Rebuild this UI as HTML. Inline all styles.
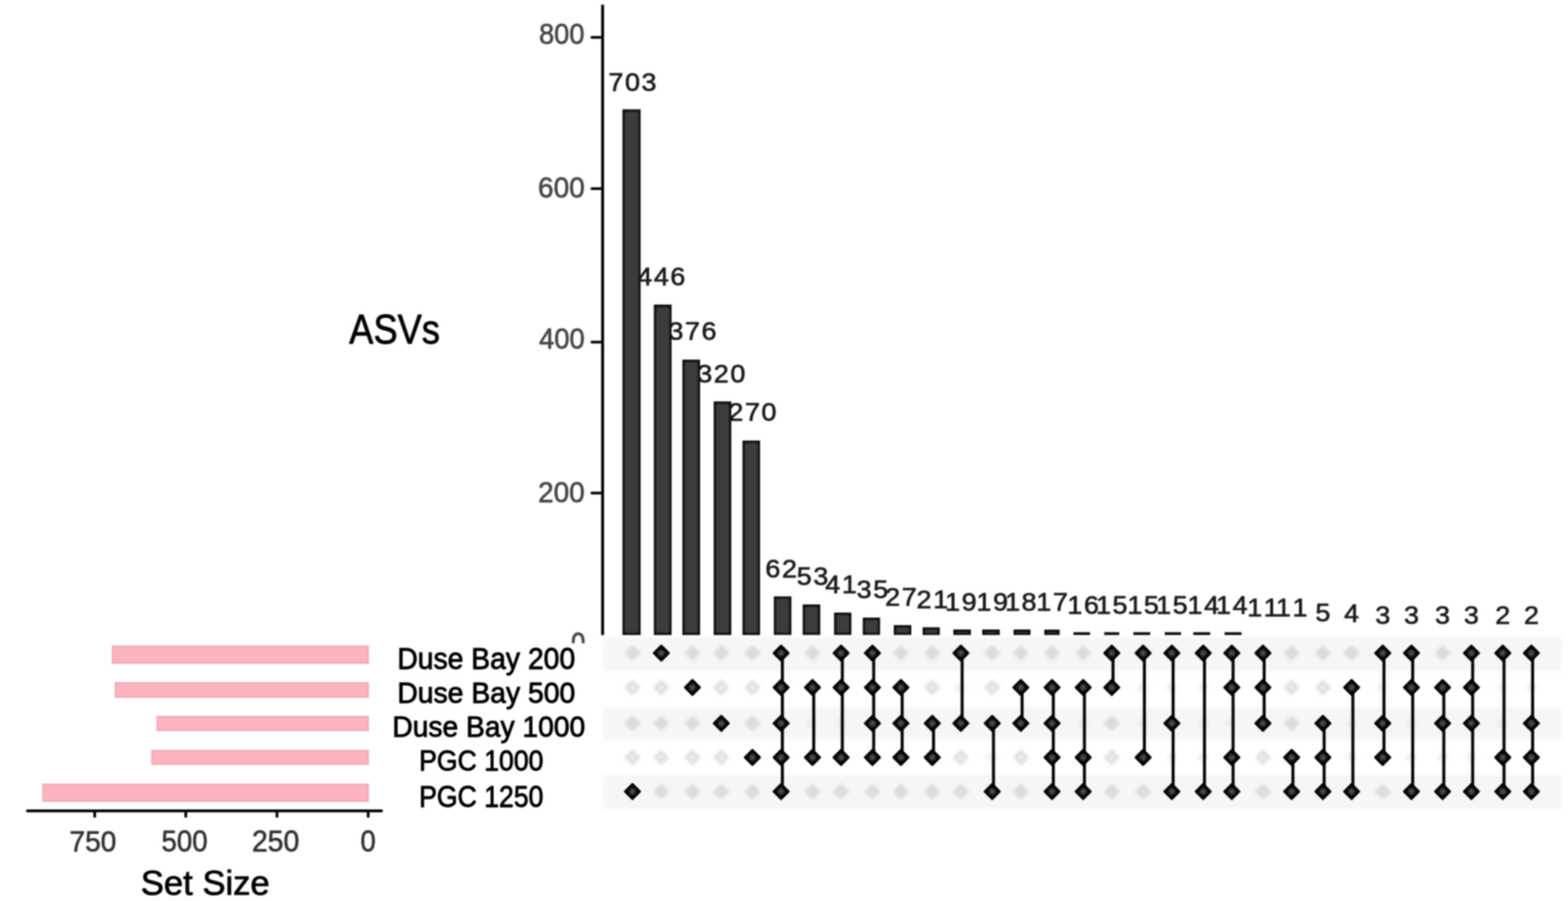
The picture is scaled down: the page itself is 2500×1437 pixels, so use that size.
<!DOCTYPE html>
<html lang="en"><head><meta charset="utf-8"><title>UpSet plot - ASVs</title>
<style>
html,body{margin:0;padding:0;background:#fff;}
body{width:2500px;height:1437px;overflow:hidden;}
svg{display:block;}
text{font-family:"Liberation Sans",sans-serif;font-kerning:none;}
</style></head><body>
<svg width="2500" height="1437" viewBox="0 0 2500 1437">
<defs>
<radialGradient id="dg" cx="50%" cy="50%" r="50%">
<stop offset="0" stop-color="#585858"/><stop offset="0.28" stop-color="#3c3c3c"/><stop offset="0.6" stop-color="#0a0a0a"/><stop offset="1" stop-color="#000"/>
</radialGradient>
<filter id="b1" color-interpolation-filters="sRGB" x="-50%" y="-50%" width="200%" height="200%"><feGaussianBlur stdDeviation="2.2"/></filter>
<filter id="b2" color-interpolation-filters="sRGB" x="-5%" y="-5%" width="110%" height="110%"><feGaussianBlur stdDeviation="0.9"/></filter>
<filter id="b4" color-interpolation-filters="sRGB" x="-30%" y="-10%" width="160%" height="120%"><feGaussianBlur stdDeviation="1.3"/></filter>
<filter id="b3" color-interpolation-filters="sRGB" x="-5%" y="-20%" width="110%" height="140%"><feGaussianBlur stdDeviation="2"/></filter>
<clipPath id="cz"><rect x="900" y="1000" width="40" height="25.2"/></clipPath>
<clipPath id="cb"><rect x="960" y="0" width="1540" height="1012.8"/></clipPath>
</defs>
<rect width="2500" height="1437" fill="#fff"/>
<g filter="url(#b2)">
<g>
<text transform="translate(1009.63,144.70) scale(1.0700,1)" font-size="40.20" fill="#1c1c1c" text-anchor="middle" stroke="#1c1c1c" stroke-width="1.0" stroke-linejoin="round" letter-spacing="2.3">703</text>
<text transform="translate(1055.63,455.10) scale(1.0700,1)" font-size="40.20" fill="#1c1c1c" text-anchor="middle" stroke="#1c1c1c" stroke-width="1.0" stroke-linejoin="round" letter-spacing="2.3">446</text>
<text transform="translate(1105.23,542.10) scale(1.0700,1)" font-size="40.20" fill="#1c1c1c" text-anchor="middle" stroke="#1c1c1c" stroke-width="1.0" stroke-linejoin="round" letter-spacing="2.3">376</text>
<text transform="translate(1151.23,609.50) scale(1.0700,1)" font-size="40.20" fill="#1c1c1c" text-anchor="middle" stroke="#1c1c1c" stroke-width="1.0" stroke-linejoin="round" letter-spacing="2.3">320</text>
<text transform="translate(1200.83,671.30) scale(1.0700,1)" font-size="40.20" fill="#1c1c1c" text-anchor="middle" stroke="#1c1c1c" stroke-width="1.0" stroke-linejoin="round" letter-spacing="2.3">270</text>
<text transform="translate(1246.63,920.70) scale(1.0700,1)" font-size="40.20" fill="#1c1c1c" text-anchor="middle" stroke="#1c1c1c" stroke-width="1.0" stroke-linejoin="round" letter-spacing="2.3">62</text>
<text transform="translate(1296.63,932.70) scale(1.0700,1)" font-size="40.20" fill="#1c1c1c" text-anchor="middle" stroke="#1c1c1c" stroke-width="1.0" stroke-linejoin="round" letter-spacing="2.3">53</text>
<text transform="translate(1342.23,945.70) scale(1.0700,1)" font-size="40.20" fill="#1c1c1c" text-anchor="middle" stroke="#1c1c1c" stroke-width="1.0" stroke-linejoin="round" letter-spacing="2.3">41</text>
<text transform="translate(1392.23,953.70) scale(1.0700,1)" font-size="40.20" fill="#1c1c1c" text-anchor="middle" stroke="#1c1c1c" stroke-width="1.0" stroke-linejoin="round" letter-spacing="2.3">35</text>
<text transform="translate(1437.63,965.70) scale(1.0700,1)" font-size="40.20" fill="#1c1c1c" text-anchor="middle" stroke="#1c1c1c" stroke-width="1.0" stroke-linejoin="round" letter-spacing="2.3">27</text>
<text transform="translate(1487.63,969.70) scale(1.0700,1)" font-size="40.20" fill="#1c1c1c" text-anchor="middle" stroke="#1c1c1c" stroke-width="1.0" stroke-linejoin="round" letter-spacing="2.3">21</text>
<text transform="translate(1533.23,973.70) scale(1.0700,1)" font-size="40.20" fill="#1c1c1c" text-anchor="middle" stroke="#1c1c1c" stroke-width="1.0" stroke-linejoin="round" letter-spacing="2.3">19</text>
<text transform="translate(1583.23,973.70) scale(1.0700,1)" font-size="40.20" fill="#1c1c1c" text-anchor="middle" stroke="#1c1c1c" stroke-width="1.0" stroke-linejoin="round" letter-spacing="2.3">19</text>
<text transform="translate(1628.83,973.70) scale(1.0700,1)" font-size="40.20" fill="#1c1c1c" text-anchor="middle" stroke="#1c1c1c" stroke-width="1.0" stroke-linejoin="round" letter-spacing="2.3">18</text>
<text transform="translate(1678.63,973.70) scale(1.0700,1)" font-size="40.20" fill="#1c1c1c" text-anchor="middle" stroke="#1c1c1c" stroke-width="1.0" stroke-linejoin="round" letter-spacing="2.3">17</text>
<text transform="translate(1728.23,978.70) scale(1.0700,1)" font-size="40.20" fill="#1c1c1c" text-anchor="middle" stroke="#1c1c1c" stroke-width="1.0" stroke-linejoin="round" letter-spacing="2.3">16</text>
<text transform="translate(1773.83,978.70) scale(1.0700,1)" font-size="40.20" fill="#1c1c1c" text-anchor="middle" stroke="#1c1c1c" stroke-width="1.0" stroke-linejoin="round" letter-spacing="2.3">15</text>
<text transform="translate(1823.83,978.70) scale(1.0700,1)" font-size="40.20" fill="#1c1c1c" text-anchor="middle" stroke="#1c1c1c" stroke-width="1.0" stroke-linejoin="round" letter-spacing="2.3">15</text>
<text transform="translate(1869.63,978.70) scale(1.0700,1)" font-size="40.20" fill="#1c1c1c" text-anchor="middle" stroke="#1c1c1c" stroke-width="1.0" stroke-linejoin="round" letter-spacing="2.3">15</text>
<text transform="translate(1919.63,978.70) scale(1.0700,1)" font-size="40.20" fill="#1c1c1c" text-anchor="middle" stroke="#1c1c1c" stroke-width="1.0" stroke-linejoin="round" letter-spacing="2.3">14</text>
<text transform="translate(1965.23,978.70) scale(1.0700,1)" font-size="40.20" fill="#1c1c1c" text-anchor="middle" stroke="#1c1c1c" stroke-width="1.0" stroke-linejoin="round" letter-spacing="2.3">14</text>
<text transform="translate(2014.83,982.60) scale(1.0700,1)" font-size="40.20" fill="#1c1c1c" text-anchor="middle" stroke="#1c1c1c" stroke-width="1.0" stroke-linejoin="round" letter-spacing="2.3">11</text>
<text transform="translate(2060.63,982.60) scale(1.0700,1)" font-size="40.20" fill="#1c1c1c" text-anchor="middle" stroke="#1c1c1c" stroke-width="1.0" stroke-linejoin="round" letter-spacing="2.3">11</text>
<text transform="translate(2110.43,990.70) scale(1.0700,1)" font-size="40.20" fill="#1c1c1c" text-anchor="middle" stroke="#1c1c1c" stroke-width="1.0" stroke-linejoin="round" letter-spacing="2.3">5</text>
<text transform="translate(2156.23,991.50) scale(1.0700,1)" font-size="40.20" fill="#1c1c1c" text-anchor="middle" stroke="#1c1c1c" stroke-width="1.0" stroke-linejoin="round" letter-spacing="2.3">4</text>
<text transform="translate(2205.83,994.70) scale(1.0700,1)" font-size="40.20" fill="#1c1c1c" text-anchor="middle" stroke="#1c1c1c" stroke-width="1.0" stroke-linejoin="round" letter-spacing="2.3">3</text>
<text transform="translate(2251.63,994.70) scale(1.0700,1)" font-size="40.20" fill="#1c1c1c" text-anchor="middle" stroke="#1c1c1c" stroke-width="1.0" stroke-linejoin="round" letter-spacing="2.3">3</text>
<text transform="translate(2301.23,994.70) scale(1.0700,1)" font-size="40.20" fill="#1c1c1c" text-anchor="middle" stroke="#1c1c1c" stroke-width="1.0" stroke-linejoin="round" letter-spacing="2.3">3</text>
<text transform="translate(2347.23,994.70) scale(1.0700,1)" font-size="40.20" fill="#1c1c1c" text-anchor="middle" stroke="#1c1c1c" stroke-width="1.0" stroke-linejoin="round" letter-spacing="2.3">3</text>
<text transform="translate(2397.23,994.70) scale(1.0700,1)" font-size="40.20" fill="#1c1c1c" text-anchor="middle" stroke="#1c1c1c" stroke-width="1.0" stroke-linejoin="round" letter-spacing="2.3">2</text>
<text transform="translate(2442.83,994.70) scale(1.0700,1)" font-size="40.20" fill="#1c1c1c" text-anchor="middle" stroke="#1c1c1c" stroke-width="1.0" stroke-linejoin="round" letter-spacing="2.3">2</text>
</g>
<g clip-path="url(#cb)">
<rect x="992.4" y="174.4" width="29.0" height="838.4" fill="#0c0c0c"/>
<rect x="995.8" y="178.0" width="22.2" height="831.4" rx="3" fill="#3c3c3c" filter="url(#b4)"/>
<rect x="1042.5" y="485.8" width="28.3" height="527.0" fill="#0c0c0c"/>
<rect x="1045.9" y="489.4" width="21.5" height="520.0" rx="3" fill="#3c3c3c" filter="url(#b4)"/>
<rect x="1088.0" y="573.6" width="28.2" height="439.2" fill="#0c0c0c"/>
<rect x="1091.4" y="577.2" width="21.4" height="432.2" rx="3" fill="#3c3c3c" filter="url(#b4)"/>
<rect x="1137.9" y="640.2" width="28.1" height="372.6" fill="#0c0c0c"/>
<rect x="1141.3" y="643.8" width="21.3" height="365.6" rx="3" fill="#3c3c3c" filter="url(#b4)"/>
<rect x="1183.8" y="702.6" width="28.0" height="310.2" fill="#0c0c0c"/>
<rect x="1187.2" y="706.2" width="21.2" height="303.2" rx="3" fill="#3c3c3c" filter="url(#b4)"/>
<rect x="1233.8" y="951.2" width="28.0" height="61.6" fill="#0c0c0c"/>
<rect x="1237.2" y="954.8" width="21.2" height="54.6" rx="3" fill="#3c3c3c" filter="url(#b4)"/>
<rect x="1279.8" y="964.0" width="28.0" height="48.8" fill="#0c0c0c"/>
<rect x="1283.2" y="967.6" width="21.2" height="41.8" rx="3" fill="#3c3c3c" filter="url(#b4)"/>
<rect x="1329.8" y="977.0" width="27.6" height="35.8" fill="#0c0c0c"/>
<rect x="1333.2" y="980.6" width="20.8" height="28.8" rx="3" fill="#3c3c3c" filter="url(#b4)"/>
<rect x="1375.6" y="985.0" width="27.6" height="27.8" fill="#0c0c0c"/>
<rect x="1379.0" y="988.6" width="20.8" height="20.8" rx="3" fill="#3c3c3c" filter="url(#b4)"/>
<rect x="1425.0" y="997.0" width="28.0" height="15.8" fill="#0c0c0c"/>
<rect x="1428.4" y="1000.6" width="21.2" height="8.8" rx="3" fill="#3c3c3c" filter="url(#b4)"/>
<rect x="1471.0" y="1000.5" width="27.4" height="12.8" fill="#0c0c0c"/>
<rect x="1474.4" y="1004.1" width="20.6" height="5.8" rx="3" fill="#3c3c3c" filter="url(#b4)"/>
<rect x="1520.0" y="1004.0" width="28.0" height="9.3" fill="#0c0c0c"/>
<rect x="1523.4" y="1007.6" width="21.2" height="2.3" rx="3" fill="#3c3c3c" filter="url(#b4)"/>
<rect x="1566.0" y="1004.0" width="28.0" height="9.3" fill="#0c0c0c"/>
<rect x="1569.4" y="1007.6" width="21.2" height="2.3" rx="3" fill="#3c3c3c" filter="url(#b4)"/>
<rect x="1616.0" y="1004.0" width="27.0" height="9.3" fill="#0c0c0c"/>
<rect x="1619.4" y="1007.6" width="20.2" height="2.3" rx="3" fill="#3c3c3c" filter="url(#b4)"/>
<rect x="1665.0" y="1004.2" width="24.5" height="9.1" fill="#0c0c0c"/>
<rect x="1668.4" y="1007.8" width="17.7" height="2.1" rx="3" fill="#3c3c3c" filter="url(#b4)"/>
<rect x="1711.5" y="1008.3" width="26.5" height="5.0" fill="#0c0c0c"/>
<rect x="1760.5" y="1008.3" width="24.0" height="5.0" fill="#0c0c0c"/>
<rect x="1807.0" y="1008.3" width="27.0" height="5.0" fill="#0c0c0c"/>
<rect x="1857.0" y="1008.3" width="26.0" height="5.0" fill="#0c0c0c"/>
<rect x="1902.5" y="1008.3" width="27.0" height="5.0" fill="#0c0c0c"/>
<rect x="1952.5" y="1008.3" width="27.0" height="5.0" fill="#0c0c0c"/>
</g>
<rect x="958.5" y="7.5" width="4.6" height="1005.3" fill="#000"/>
<rect x="941.5" y="57.5" width="18" height="4.2" rx="2" fill="#000"/>
<rect x="941.5" y="298.7" width="18" height="4.2" rx="2" fill="#000"/>
<rect x="941.5" y="543.5" width="18" height="4.2" rx="2" fill="#000"/>
<rect x="941.5" y="784.3" width="18" height="4.2" rx="2" fill="#000"/>
<text transform="translate(859.46,69.83) scale(0.9292,1)" font-size="46.64" fill="#474747" stroke="#474747" stroke-width="1.0" stroke-linejoin="round">800</text>
<text transform="translate(857.87,314.84) scale(0.9612,1)" font-size="46.36" fill="#474747" stroke="#474747" stroke-width="1.0" stroke-linejoin="round">600</text>
<text transform="translate(859.52,555.64) scale(0.9394,1)" font-size="46.36" fill="#474747" stroke="#474747" stroke-width="1.0" stroke-linejoin="round">400</text>
<text transform="translate(858.08,800.63) scale(0.9527,1)" font-size="46.64" fill="#474747" stroke="#474747" stroke-width="1.0" stroke-linejoin="round">200</text>
<g clip-path="url(#cz)">
<text transform="translate(910.56,1040.94) scale(0.8854,1)" font-size="46.36" fill="#474747" stroke="#474747" stroke-width="1.2" stroke-linejoin="round">0</text>
</g>
<text transform="translate(556.86,548.20) scale(0.8683,1)" font-size="66.52" fill="#000" stroke="#000" stroke-width="1.2" stroke-linejoin="round">ASVs</text>
<rect x="962" y="1017.0" width="1528" height="53.0" fill="#f6f6f6" filter="url(#b3)"/>
<rect x="962" y="1128.0" width="1528" height="51.0" fill="#f6f6f6" filter="url(#b3)"/>
<rect x="962" y="1236.0" width="1528" height="54.5" fill="#f6f6f6" filter="url(#b3)"/>
<g filter="url(#b1)">
<path d="M1008.4 1028.6L1021.4 1041.6L1008.4 1054.6L995.4 1041.6Z" fill="#dcdcdc"/>
<path d="M1008.4 1083.4L1021.4 1096.4L1008.4 1109.4L995.4 1096.4Z" fill="#e0e0e0"/>
<path d="M1008.4 1091.9L1012.9 1096.4L1008.4 1100.9L1003.9 1096.4Z" fill="#f2f2f2"/>
<path d="M1008.4 1140.6L1021.4 1153.6L1008.4 1166.6L995.4 1153.6Z" fill="#dcdcdc"/>
<path d="M1008.4 1195.0L1021.4 1208.0L1008.4 1221.0L995.4 1208.0Z" fill="#e0e0e0"/>
<path d="M1008.4 1203.5L1012.9 1208.0L1008.4 1212.5L1003.9 1208.0Z" fill="#f2f2f2"/>
<path d="M1054.4 1083.4L1067.4 1096.4L1054.4 1109.4L1041.4 1096.4Z" fill="#e0e0e0"/>
<path d="M1054.4 1091.9L1058.9 1096.4L1054.4 1100.9L1049.9 1096.4Z" fill="#f2f2f2"/>
<path d="M1054.4 1140.6L1067.4 1153.6L1054.4 1166.6L1041.4 1153.6Z" fill="#dcdcdc"/>
<path d="M1054.4 1195.0L1067.4 1208.0L1054.4 1221.0L1041.4 1208.0Z" fill="#e0e0e0"/>
<path d="M1054.4 1203.5L1058.9 1208.0L1054.4 1212.5L1049.9 1208.0Z" fill="#f2f2f2"/>
<path d="M1054.4 1249.4L1067.4 1262.4L1054.4 1275.4L1041.4 1262.4Z" fill="#dcdcdc"/>
<path d="M1104.0 1028.6L1117.0 1041.6L1104.0 1054.6L1091.0 1041.6Z" fill="#dcdcdc"/>
<path d="M1104.0 1140.6L1117.0 1153.6L1104.0 1166.6L1091.0 1153.6Z" fill="#dcdcdc"/>
<path d="M1104.0 1195.0L1117.0 1208.0L1104.0 1221.0L1091.0 1208.0Z" fill="#e0e0e0"/>
<path d="M1104.0 1203.5L1108.5 1208.0L1104.0 1212.5L1099.5 1208.0Z" fill="#f2f2f2"/>
<path d="M1104.0 1249.4L1117.0 1262.4L1104.0 1275.4L1091.0 1262.4Z" fill="#dcdcdc"/>
<path d="M1150.0 1028.6L1163.0 1041.6L1150.0 1054.6L1137.0 1041.6Z" fill="#dcdcdc"/>
<path d="M1150.0 1083.4L1163.0 1096.4L1150.0 1109.4L1137.0 1096.4Z" fill="#e0e0e0"/>
<path d="M1150.0 1091.9L1154.5 1096.4L1150.0 1100.9L1145.5 1096.4Z" fill="#f2f2f2"/>
<path d="M1150.0 1195.0L1163.0 1208.0L1150.0 1221.0L1137.0 1208.0Z" fill="#e0e0e0"/>
<path d="M1150.0 1203.5L1154.5 1208.0L1150.0 1212.5L1145.5 1208.0Z" fill="#f2f2f2"/>
<path d="M1150.0 1249.4L1163.0 1262.4L1150.0 1275.4L1137.0 1262.4Z" fill="#dcdcdc"/>
<path d="M1199.6 1028.6L1212.6 1041.6L1199.6 1054.6L1186.6 1041.6Z" fill="#dcdcdc"/>
<path d="M1199.6 1083.4L1212.6 1096.4L1199.6 1109.4L1186.6 1096.4Z" fill="#e0e0e0"/>
<path d="M1199.6 1091.9L1204.1 1096.4L1199.6 1100.9L1195.1 1096.4Z" fill="#f2f2f2"/>
<path d="M1199.6 1140.6L1212.6 1153.6L1199.6 1166.6L1186.6 1153.6Z" fill="#dcdcdc"/>
<path d="M1199.6 1249.4L1212.6 1262.4L1199.6 1275.4L1186.6 1262.4Z" fill="#dcdcdc"/>
<path d="M1295.4 1028.6L1308.4 1041.6L1295.4 1054.6L1282.4 1041.6Z" fill="#dcdcdc"/>
<path d="M1295.4 1143.2L1305.8 1153.6L1295.4 1164.0L1285.0 1153.6Z" fill="#ececec"/>
<path d="M1295.4 1249.4L1308.4 1262.4L1295.4 1275.4L1282.4 1262.4Z" fill="#dcdcdc"/>
<path d="M1341.0 1143.2L1351.4 1153.6L1341.0 1164.0L1330.6 1153.6Z" fill="#ececec"/>
<path d="M1341.0 1249.4L1354.0 1262.4L1341.0 1275.4L1328.0 1262.4Z" fill="#dcdcdc"/>
<path d="M1391.0 1249.4L1404.0 1262.4L1391.0 1275.4L1378.0 1262.4Z" fill="#dcdcdc"/>
<path d="M1436.4 1028.6L1449.4 1041.6L1436.4 1054.6L1423.4 1041.6Z" fill="#dcdcdc"/>
<path d="M1436.4 1249.4L1449.4 1262.4L1436.4 1275.4L1423.4 1262.4Z" fill="#dcdcdc"/>
<path d="M1486.4 1028.6L1499.4 1041.6L1486.4 1054.6L1473.4 1041.6Z" fill="#dcdcdc"/>
<path d="M1486.4 1083.4L1499.4 1096.4L1486.4 1109.4L1473.4 1096.4Z" fill="#e0e0e0"/>
<path d="M1486.4 1091.9L1490.9 1096.4L1486.4 1100.9L1481.9 1096.4Z" fill="#f2f2f2"/>
<path d="M1486.4 1249.4L1499.4 1262.4L1486.4 1275.4L1473.4 1262.4Z" fill="#dcdcdc"/>
<path d="M1532.0 1086.0L1542.4 1096.4L1532.0 1106.8L1521.6 1096.4Z" fill="#f1f1f1"/>
<path d="M1532.0 1195.0L1545.0 1208.0L1532.0 1221.0L1519.0 1208.0Z" fill="#e0e0e0"/>
<path d="M1532.0 1203.5L1536.5 1208.0L1532.0 1212.5L1527.5 1208.0Z" fill="#f2f2f2"/>
<path d="M1532.0 1249.4L1545.0 1262.4L1532.0 1275.4L1519.0 1262.4Z" fill="#dcdcdc"/>
<path d="M1582.0 1028.6L1595.0 1041.6L1582.0 1054.6L1569.0 1041.6Z" fill="#dcdcdc"/>
<path d="M1582.0 1083.4L1595.0 1096.4L1582.0 1109.4L1569.0 1096.4Z" fill="#e0e0e0"/>
<path d="M1582.0 1091.9L1586.5 1096.4L1582.0 1100.9L1577.5 1096.4Z" fill="#f2f2f2"/>
<path d="M1582.0 1197.6L1592.4 1208.0L1582.0 1218.4L1571.6 1208.0Z" fill="#f1f1f1"/>
<path d="M1627.6 1028.6L1640.6 1041.6L1627.6 1054.6L1614.6 1041.6Z" fill="#dcdcdc"/>
<path d="M1627.6 1195.0L1640.6 1208.0L1627.6 1221.0L1614.6 1208.0Z" fill="#e0e0e0"/>
<path d="M1627.6 1203.5L1632.1 1208.0L1627.6 1212.5L1623.1 1208.0Z" fill="#f2f2f2"/>
<path d="M1627.6 1249.4L1640.6 1262.4L1627.6 1275.4L1614.6 1262.4Z" fill="#dcdcdc"/>
<path d="M1677.4 1028.6L1690.4 1041.6L1677.4 1054.6L1664.4 1041.6Z" fill="#dcdcdc"/>
<path d="M1727.0 1028.6L1740.0 1041.6L1727.0 1054.6L1714.0 1041.6Z" fill="#dcdcdc"/>
<path d="M1727.0 1143.2L1737.4 1153.6L1727.0 1164.0L1716.6 1153.6Z" fill="#ececec"/>
<path d="M1772.6 1140.6L1785.6 1153.6L1772.6 1166.6L1759.6 1153.6Z" fill="#dcdcdc"/>
<path d="M1772.6 1195.0L1785.6 1208.0L1772.6 1221.0L1759.6 1208.0Z" fill="#e0e0e0"/>
<path d="M1772.6 1203.5L1777.1 1208.0L1772.6 1212.5L1768.1 1208.0Z" fill="#f2f2f2"/>
<path d="M1772.6 1249.4L1785.6 1262.4L1772.6 1275.4L1759.6 1262.4Z" fill="#dcdcdc"/>
<path d="M1822.6 1086.0L1833.0 1096.4L1822.6 1106.8L1812.2 1096.4Z" fill="#f1f1f1"/>
<path d="M1822.6 1143.2L1833.0 1153.6L1822.6 1164.0L1812.2 1153.6Z" fill="#ececec"/>
<path d="M1822.6 1249.4L1835.6 1262.4L1822.6 1275.4L1809.6 1262.4Z" fill="#dcdcdc"/>
<path d="M1868.4 1086.0L1878.8 1096.4L1868.4 1106.8L1858.0 1096.4Z" fill="#f1f1f1"/>
<path d="M1868.4 1197.6L1878.8 1208.0L1868.4 1218.4L1858.0 1208.0Z" fill="#f1f1f1"/>
<path d="M1918.4 1086.0L1928.8 1096.4L1918.4 1106.8L1908.0 1096.4Z" fill="#f1f1f1"/>
<path d="M1918.4 1143.2L1928.8 1153.6L1918.4 1164.0L1908.0 1153.6Z" fill="#ececec"/>
<path d="M1918.4 1197.6L1928.8 1208.0L1918.4 1218.4L1908.0 1208.0Z" fill="#f1f1f1"/>
<path d="M1964.0 1143.2L1974.4 1153.6L1964.0 1164.0L1953.6 1153.6Z" fill="#ececec"/>
<path d="M2013.6 1195.0L2026.6 1208.0L2013.6 1221.0L2000.6 1208.0Z" fill="#e0e0e0"/>
<path d="M2013.6 1203.5L2018.1 1208.0L2013.6 1212.5L2009.1 1208.0Z" fill="#f2f2f2"/>
<path d="M2013.6 1249.4L2026.6 1262.4L2013.6 1275.4L2000.6 1262.4Z" fill="#dcdcdc"/>
<path d="M2059.4 1028.6L2072.4 1041.6L2059.4 1054.6L2046.4 1041.6Z" fill="#dcdcdc"/>
<path d="M2059.4 1083.4L2072.4 1096.4L2059.4 1109.4L2046.4 1096.4Z" fill="#e0e0e0"/>
<path d="M2059.4 1091.9L2063.9 1096.4L2059.4 1100.9L2054.9 1096.4Z" fill="#f2f2f2"/>
<path d="M2059.4 1140.6L2072.4 1153.6L2059.4 1166.6L2046.4 1153.6Z" fill="#dcdcdc"/>
<path d="M2109.2 1028.6L2122.2 1041.6L2109.2 1054.6L2096.2 1041.6Z" fill="#dcdcdc"/>
<path d="M2109.2 1083.4L2122.2 1096.4L2109.2 1109.4L2096.2 1096.4Z" fill="#e0e0e0"/>
<path d="M2109.2 1091.9L2113.7 1096.4L2109.2 1100.9L2104.7 1096.4Z" fill="#f2f2f2"/>
<path d="M2155.0 1028.6L2168.0 1041.6L2155.0 1054.6L2142.0 1041.6Z" fill="#dcdcdc"/>
<path d="M2155.0 1143.2L2165.4 1153.6L2155.0 1164.0L2144.6 1153.6Z" fill="#ececec"/>
<path d="M2155.0 1197.6L2165.4 1208.0L2155.0 1218.4L2144.6 1208.0Z" fill="#f1f1f1"/>
<path d="M2204.6 1086.0L2215.0 1096.4L2204.6 1106.8L2194.2 1096.4Z" fill="#f1f1f1"/>
<path d="M2204.6 1249.4L2217.6 1262.4L2204.6 1275.4L2191.6 1262.4Z" fill="#dcdcdc"/>
<path d="M2250.4 1143.2L2260.8 1153.6L2250.4 1164.0L2240.0 1153.6Z" fill="#ececec"/>
<path d="M2250.4 1197.6L2260.8 1208.0L2250.4 1218.4L2240.0 1208.0Z" fill="#f1f1f1"/>
<path d="M2300.0 1028.6L2313.0 1041.6L2300.0 1054.6L2287.0 1041.6Z" fill="#dcdcdc"/>
<path d="M2300.0 1197.6L2310.4 1208.0L2300.0 1218.4L2289.6 1208.0Z" fill="#f1f1f1"/>
<path d="M2346.0 1197.6L2356.4 1208.0L2346.0 1218.4L2335.6 1208.0Z" fill="#f1f1f1"/>
<path d="M2396.0 1086.0L2406.4 1096.4L2396.0 1106.8L2385.6 1096.4Z" fill="#f1f1f1"/>
<path d="M2396.0 1143.2L2406.4 1153.6L2396.0 1164.0L2385.6 1153.6Z" fill="#ececec"/>
<path d="M2441.6 1086.0L2452.0 1096.4L2441.6 1106.8L2431.2 1096.4Z" fill="#f1f1f1"/>
</g>
<rect x="1245.0" y="1041.6" width="4.8" height="220.8" fill="#050505"/>
<rect x="1295.0" y="1096.4" width="4.8" height="111.6" fill="#050505"/>
<rect x="1340.6" y="1041.6" width="4.8" height="166.4" fill="#050505"/>
<rect x="1390.6" y="1041.6" width="4.8" height="166.4" fill="#050505"/>
<rect x="1436.0" y="1096.4" width="4.8" height="111.6" fill="#050505"/>
<rect x="1486.0" y="1153.6" width="4.8" height="54.4" fill="#050505"/>
<rect x="1531.6" y="1041.6" width="4.8" height="112.0" fill="#050505"/>
<rect x="1581.6" y="1153.6" width="4.8" height="108.8" fill="#050505"/>
<rect x="1627.2" y="1096.4" width="4.8" height="57.2" fill="#050505"/>
<rect x="1677.0" y="1096.4" width="4.8" height="166.0" fill="#050505"/>
<rect x="1726.6" y="1096.4" width="4.8" height="166.0" fill="#050505"/>
<rect x="1772.2" y="1041.6" width="4.8" height="54.8" fill="#050505"/>
<rect x="1822.2" y="1041.6" width="4.8" height="166.4" fill="#050505"/>
<rect x="1868.0" y="1041.6" width="4.8" height="220.8" fill="#050505"/>
<rect x="1918.0" y="1041.6" width="4.8" height="220.8" fill="#050505"/>
<rect x="1963.6" y="1041.6" width="4.8" height="220.8" fill="#050505"/>
<rect x="2013.2" y="1041.6" width="4.8" height="112.0" fill="#050505"/>
<rect x="2059.0" y="1208.0" width="4.8" height="54.4" fill="#050505"/>
<rect x="2108.8" y="1153.6" width="4.8" height="108.8" fill="#050505"/>
<rect x="2154.6" y="1096.4" width="4.8" height="166.0" fill="#050505"/>
<rect x="2204.2" y="1041.6" width="4.8" height="166.4" fill="#050505"/>
<rect x="2250.0" y="1041.6" width="4.8" height="220.8" fill="#050505"/>
<rect x="2299.6" y="1096.4" width="4.8" height="166.0" fill="#050505"/>
<rect x="2345.6" y="1041.6" width="4.8" height="220.8" fill="#050505"/>
<rect x="2395.6" y="1041.6" width="4.8" height="220.8" fill="#050505"/>
<rect x="2441.2" y="1041.6" width="4.8" height="220.8" fill="#050505"/>
<path d="M1008.4 1250.4L1020.4 1262.4L1008.4 1274.4L996.4 1262.4Z" fill="url(#dg)" stroke="#000" stroke-width="3.2" stroke-linejoin="round"/>
<path d="M1054.4 1029.6L1066.4 1041.6L1054.4 1053.6L1042.4 1041.6Z" fill="url(#dg)" stroke="#000" stroke-width="3.2" stroke-linejoin="round"/>
<path d="M1104.0 1084.4L1116.0 1096.4L1104.0 1108.4L1092.0 1096.4Z" fill="url(#dg)" stroke="#000" stroke-width="3.2" stroke-linejoin="round"/>
<path d="M1150.0 1141.6L1162.0 1153.6L1150.0 1165.6L1138.0 1153.6Z" fill="url(#dg)" stroke="#000" stroke-width="3.2" stroke-linejoin="round"/>
<path d="M1199.6 1196.0L1211.6 1208.0L1199.6 1220.0L1187.6 1208.0Z" fill="url(#dg)" stroke="#000" stroke-width="3.2" stroke-linejoin="round"/>
<path d="M1245.4 1029.6L1257.4 1041.6L1245.4 1053.6L1233.4 1041.6Z" fill="url(#dg)" stroke="#000" stroke-width="3.2" stroke-linejoin="round"/>
<path d="M1245.4 1084.4L1257.4 1096.4L1245.4 1108.4L1233.4 1096.4Z" fill="url(#dg)" stroke="#000" stroke-width="3.2" stroke-linejoin="round"/>
<path d="M1245.4 1141.6L1257.4 1153.6L1245.4 1165.6L1233.4 1153.6Z" fill="url(#dg)" stroke="#000" stroke-width="3.2" stroke-linejoin="round"/>
<path d="M1245.4 1196.0L1257.4 1208.0L1245.4 1220.0L1233.4 1208.0Z" fill="url(#dg)" stroke="#000" stroke-width="3.2" stroke-linejoin="round"/>
<path d="M1245.4 1250.4L1257.4 1262.4L1245.4 1274.4L1233.4 1262.4Z" fill="url(#dg)" stroke="#000" stroke-width="3.2" stroke-linejoin="round"/>
<path d="M1295.4 1084.4L1307.4 1096.4L1295.4 1108.4L1283.4 1096.4Z" fill="url(#dg)" stroke="#000" stroke-width="3.2" stroke-linejoin="round"/>
<path d="M1295.4 1196.0L1307.4 1208.0L1295.4 1220.0L1283.4 1208.0Z" fill="url(#dg)" stroke="#000" stroke-width="3.2" stroke-linejoin="round"/>
<path d="M1341.0 1029.6L1353.0 1041.6L1341.0 1053.6L1329.0 1041.6Z" fill="url(#dg)" stroke="#000" stroke-width="3.2" stroke-linejoin="round"/>
<path d="M1341.0 1084.4L1353.0 1096.4L1341.0 1108.4L1329.0 1096.4Z" fill="url(#dg)" stroke="#000" stroke-width="3.2" stroke-linejoin="round"/>
<path d="M1341.0 1196.0L1353.0 1208.0L1341.0 1220.0L1329.0 1208.0Z" fill="url(#dg)" stroke="#000" stroke-width="3.2" stroke-linejoin="round"/>
<path d="M1391.0 1029.6L1403.0 1041.6L1391.0 1053.6L1379.0 1041.6Z" fill="url(#dg)" stroke="#000" stroke-width="3.2" stroke-linejoin="round"/>
<path d="M1391.0 1084.4L1403.0 1096.4L1391.0 1108.4L1379.0 1096.4Z" fill="url(#dg)" stroke="#000" stroke-width="3.2" stroke-linejoin="round"/>
<path d="M1391.0 1141.6L1403.0 1153.6L1391.0 1165.6L1379.0 1153.6Z" fill="url(#dg)" stroke="#000" stroke-width="3.2" stroke-linejoin="round"/>
<path d="M1391.0 1196.0L1403.0 1208.0L1391.0 1220.0L1379.0 1208.0Z" fill="url(#dg)" stroke="#000" stroke-width="3.2" stroke-linejoin="round"/>
<path d="M1436.4 1084.4L1448.4 1096.4L1436.4 1108.4L1424.4 1096.4Z" fill="url(#dg)" stroke="#000" stroke-width="3.2" stroke-linejoin="round"/>
<path d="M1436.4 1141.6L1448.4 1153.6L1436.4 1165.6L1424.4 1153.6Z" fill="url(#dg)" stroke="#000" stroke-width="3.2" stroke-linejoin="round"/>
<path d="M1436.4 1196.0L1448.4 1208.0L1436.4 1220.0L1424.4 1208.0Z" fill="url(#dg)" stroke="#000" stroke-width="3.2" stroke-linejoin="round"/>
<path d="M1486.4 1141.6L1498.4 1153.6L1486.4 1165.6L1474.4 1153.6Z" fill="url(#dg)" stroke="#000" stroke-width="3.2" stroke-linejoin="round"/>
<path d="M1486.4 1196.0L1498.4 1208.0L1486.4 1220.0L1474.4 1208.0Z" fill="url(#dg)" stroke="#000" stroke-width="3.2" stroke-linejoin="round"/>
<path d="M1532.0 1029.6L1544.0 1041.6L1532.0 1053.6L1520.0 1041.6Z" fill="url(#dg)" stroke="#000" stroke-width="3.2" stroke-linejoin="round"/>
<path d="M1532.0 1141.6L1544.0 1153.6L1532.0 1165.6L1520.0 1153.6Z" fill="url(#dg)" stroke="#000" stroke-width="3.2" stroke-linejoin="round"/>
<path d="M1582.0 1141.6L1594.0 1153.6L1582.0 1165.6L1570.0 1153.6Z" fill="url(#dg)" stroke="#000" stroke-width="3.2" stroke-linejoin="round"/>
<path d="M1582.0 1250.4L1594.0 1262.4L1582.0 1274.4L1570.0 1262.4Z" fill="url(#dg)" stroke="#000" stroke-width="3.2" stroke-linejoin="round"/>
<path d="M1627.6 1084.4L1639.6 1096.4L1627.6 1108.4L1615.6 1096.4Z" fill="url(#dg)" stroke="#000" stroke-width="3.2" stroke-linejoin="round"/>
<path d="M1627.6 1141.6L1639.6 1153.6L1627.6 1165.6L1615.6 1153.6Z" fill="url(#dg)" stroke="#000" stroke-width="3.2" stroke-linejoin="round"/>
<path d="M1677.4 1084.4L1689.4 1096.4L1677.4 1108.4L1665.4 1096.4Z" fill="url(#dg)" stroke="#000" stroke-width="3.2" stroke-linejoin="round"/>
<path d="M1677.4 1141.6L1689.4 1153.6L1677.4 1165.6L1665.4 1153.6Z" fill="url(#dg)" stroke="#000" stroke-width="3.2" stroke-linejoin="round"/>
<path d="M1677.4 1196.0L1689.4 1208.0L1677.4 1220.0L1665.4 1208.0Z" fill="url(#dg)" stroke="#000" stroke-width="3.2" stroke-linejoin="round"/>
<path d="M1677.4 1250.4L1689.4 1262.4L1677.4 1274.4L1665.4 1262.4Z" fill="url(#dg)" stroke="#000" stroke-width="3.2" stroke-linejoin="round"/>
<path d="M1727.0 1084.4L1739.0 1096.4L1727.0 1108.4L1715.0 1096.4Z" fill="url(#dg)" stroke="#000" stroke-width="3.2" stroke-linejoin="round"/>
<path d="M1727.0 1196.0L1739.0 1208.0L1727.0 1220.0L1715.0 1208.0Z" fill="url(#dg)" stroke="#000" stroke-width="3.2" stroke-linejoin="round"/>
<path d="M1727.0 1250.4L1739.0 1262.4L1727.0 1274.4L1715.0 1262.4Z" fill="url(#dg)" stroke="#000" stroke-width="3.2" stroke-linejoin="round"/>
<path d="M1772.6 1029.6L1784.6 1041.6L1772.6 1053.6L1760.6 1041.6Z" fill="url(#dg)" stroke="#000" stroke-width="3.2" stroke-linejoin="round"/>
<path d="M1772.6 1084.4L1784.6 1096.4L1772.6 1108.4L1760.6 1096.4Z" fill="url(#dg)" stroke="#000" stroke-width="3.2" stroke-linejoin="round"/>
<path d="M1822.6 1029.6L1834.6 1041.6L1822.6 1053.6L1810.6 1041.6Z" fill="url(#dg)" stroke="#000" stroke-width="3.2" stroke-linejoin="round"/>
<path d="M1822.6 1196.0L1834.6 1208.0L1822.6 1220.0L1810.6 1208.0Z" fill="url(#dg)" stroke="#000" stroke-width="3.2" stroke-linejoin="round"/>
<path d="M1868.4 1029.6L1880.4 1041.6L1868.4 1053.6L1856.4 1041.6Z" fill="url(#dg)" stroke="#000" stroke-width="3.2" stroke-linejoin="round"/>
<path d="M1868.4 1141.6L1880.4 1153.6L1868.4 1165.6L1856.4 1153.6Z" fill="url(#dg)" stroke="#000" stroke-width="3.2" stroke-linejoin="round"/>
<path d="M1868.4 1250.4L1880.4 1262.4L1868.4 1274.4L1856.4 1262.4Z" fill="url(#dg)" stroke="#000" stroke-width="3.2" stroke-linejoin="round"/>
<path d="M1918.4 1029.6L1930.4 1041.6L1918.4 1053.6L1906.4 1041.6Z" fill="url(#dg)" stroke="#000" stroke-width="3.2" stroke-linejoin="round"/>
<path d="M1918.4 1250.4L1930.4 1262.4L1918.4 1274.4L1906.4 1262.4Z" fill="url(#dg)" stroke="#000" stroke-width="3.2" stroke-linejoin="round"/>
<path d="M1964.0 1029.6L1976.0 1041.6L1964.0 1053.6L1952.0 1041.6Z" fill="url(#dg)" stroke="#000" stroke-width="3.2" stroke-linejoin="round"/>
<path d="M1964.0 1084.4L1976.0 1096.4L1964.0 1108.4L1952.0 1096.4Z" fill="url(#dg)" stroke="#000" stroke-width="3.2" stroke-linejoin="round"/>
<path d="M1964.0 1196.0L1976.0 1208.0L1964.0 1220.0L1952.0 1208.0Z" fill="url(#dg)" stroke="#000" stroke-width="3.2" stroke-linejoin="round"/>
<path d="M1964.0 1250.4L1976.0 1262.4L1964.0 1274.4L1952.0 1262.4Z" fill="url(#dg)" stroke="#000" stroke-width="3.2" stroke-linejoin="round"/>
<path d="M2013.6 1029.6L2025.6 1041.6L2013.6 1053.6L2001.6 1041.6Z" fill="url(#dg)" stroke="#000" stroke-width="3.2" stroke-linejoin="round"/>
<path d="M2013.6 1084.4L2025.6 1096.4L2013.6 1108.4L2001.6 1096.4Z" fill="url(#dg)" stroke="#000" stroke-width="3.2" stroke-linejoin="round"/>
<path d="M2013.6 1141.6L2025.6 1153.6L2013.6 1165.6L2001.6 1153.6Z" fill="url(#dg)" stroke="#000" stroke-width="3.2" stroke-linejoin="round"/>
<path d="M2059.4 1196.0L2071.4 1208.0L2059.4 1220.0L2047.4 1208.0Z" fill="url(#dg)" stroke="#000" stroke-width="3.2" stroke-linejoin="round"/>
<path d="M2059.4 1250.4L2071.4 1262.4L2059.4 1274.4L2047.4 1262.4Z" fill="url(#dg)" stroke="#000" stroke-width="3.2" stroke-linejoin="round"/>
<path d="M2109.2 1141.6L2121.2 1153.6L2109.2 1165.6L2097.2 1153.6Z" fill="url(#dg)" stroke="#000" stroke-width="3.2" stroke-linejoin="round"/>
<path d="M2109.2 1196.0L2121.2 1208.0L2109.2 1220.0L2097.2 1208.0Z" fill="url(#dg)" stroke="#000" stroke-width="3.2" stroke-linejoin="round"/>
<path d="M2109.2 1250.4L2121.2 1262.4L2109.2 1274.4L2097.2 1262.4Z" fill="url(#dg)" stroke="#000" stroke-width="3.2" stroke-linejoin="round"/>
<path d="M2155.0 1084.4L2167.0 1096.4L2155.0 1108.4L2143.0 1096.4Z" fill="url(#dg)" stroke="#000" stroke-width="3.2" stroke-linejoin="round"/>
<path d="M2155.0 1250.4L2167.0 1262.4L2155.0 1274.4L2143.0 1262.4Z" fill="url(#dg)" stroke="#000" stroke-width="3.2" stroke-linejoin="round"/>
<path d="M2204.6 1029.6L2216.6 1041.6L2204.6 1053.6L2192.6 1041.6Z" fill="url(#dg)" stroke="#000" stroke-width="3.2" stroke-linejoin="round"/>
<path d="M2204.6 1141.6L2216.6 1153.6L2204.6 1165.6L2192.6 1153.6Z" fill="url(#dg)" stroke="#000" stroke-width="3.2" stroke-linejoin="round"/>
<path d="M2204.6 1196.0L2216.6 1208.0L2204.6 1220.0L2192.6 1208.0Z" fill="url(#dg)" stroke="#000" stroke-width="3.2" stroke-linejoin="round"/>
<path d="M2250.4 1029.6L2262.4 1041.6L2250.4 1053.6L2238.4 1041.6Z" fill="url(#dg)" stroke="#000" stroke-width="3.2" stroke-linejoin="round"/>
<path d="M2250.4 1084.4L2262.4 1096.4L2250.4 1108.4L2238.4 1096.4Z" fill="url(#dg)" stroke="#000" stroke-width="3.2" stroke-linejoin="round"/>
<path d="M2250.4 1250.4L2262.4 1262.4L2250.4 1274.4L2238.4 1262.4Z" fill="url(#dg)" stroke="#000" stroke-width="3.2" stroke-linejoin="round"/>
<path d="M2300.0 1084.4L2312.0 1096.4L2300.0 1108.4L2288.0 1096.4Z" fill="url(#dg)" stroke="#000" stroke-width="3.2" stroke-linejoin="round"/>
<path d="M2300.0 1141.6L2312.0 1153.6L2300.0 1165.6L2288.0 1153.6Z" fill="url(#dg)" stroke="#000" stroke-width="3.2" stroke-linejoin="round"/>
<path d="M2300.0 1250.4L2312.0 1262.4L2300.0 1274.4L2288.0 1262.4Z" fill="url(#dg)" stroke="#000" stroke-width="3.2" stroke-linejoin="round"/>
<path d="M2346.0 1029.6L2358.0 1041.6L2346.0 1053.6L2334.0 1041.6Z" fill="url(#dg)" stroke="#000" stroke-width="3.2" stroke-linejoin="round"/>
<path d="M2346.0 1084.4L2358.0 1096.4L2346.0 1108.4L2334.0 1096.4Z" fill="url(#dg)" stroke="#000" stroke-width="3.2" stroke-linejoin="round"/>
<path d="M2346.0 1141.6L2358.0 1153.6L2346.0 1165.6L2334.0 1153.6Z" fill="url(#dg)" stroke="#000" stroke-width="3.2" stroke-linejoin="round"/>
<path d="M2346.0 1250.4L2358.0 1262.4L2346.0 1274.4L2334.0 1262.4Z" fill="url(#dg)" stroke="#000" stroke-width="3.2" stroke-linejoin="round"/>
<path d="M2396.0 1029.6L2408.0 1041.6L2396.0 1053.6L2384.0 1041.6Z" fill="url(#dg)" stroke="#000" stroke-width="3.2" stroke-linejoin="round"/>
<path d="M2396.0 1196.0L2408.0 1208.0L2396.0 1220.0L2384.0 1208.0Z" fill="url(#dg)" stroke="#000" stroke-width="3.2" stroke-linejoin="round"/>
<path d="M2396.0 1250.4L2408.0 1262.4L2396.0 1274.4L2384.0 1262.4Z" fill="url(#dg)" stroke="#000" stroke-width="3.2" stroke-linejoin="round"/>
<path d="M2441.6 1029.6L2453.6 1041.6L2441.6 1053.6L2429.6 1041.6Z" fill="url(#dg)" stroke="#000" stroke-width="3.2" stroke-linejoin="round"/>
<path d="M2441.6 1141.6L2453.6 1153.6L2441.6 1165.6L2429.6 1153.6Z" fill="url(#dg)" stroke="#000" stroke-width="3.2" stroke-linejoin="round"/>
<path d="M2441.6 1196.0L2453.6 1208.0L2441.6 1220.0L2429.6 1208.0Z" fill="url(#dg)" stroke="#000" stroke-width="3.2" stroke-linejoin="round"/>
<path d="M2441.6 1250.4L2453.6 1262.4L2441.6 1274.4L2429.6 1262.4Z" fill="url(#dg)" stroke="#000" stroke-width="3.2" stroke-linejoin="round"/>
<rect x="178.4" y="1029.6" width="409.8" height="29.2" fill="#eaa8b5"/>
<rect x="180.6" y="1031.8" width="405.4" height="24.8" fill="#fdb4c0" filter="url(#b4)"/>
<rect x="182.8" y="1088.0" width="405.4" height="25.0" fill="#eaa8b5"/>
<rect x="185.0" y="1090.2" width="401.0" height="20.6" fill="#fdb4c0" filter="url(#b4)"/>
<rect x="249.4" y="1141.8" width="338.8" height="24.2" fill="#eaa8b5"/>
<rect x="251.6" y="1144.0" width="334.4" height="19.8" fill="#fdb4c0" filter="url(#b4)"/>
<rect x="241.2" y="1196.0" width="347.0" height="24.0" fill="#eaa8b5"/>
<rect x="243.39999999999998" y="1198.2" width="342.6" height="19.6" fill="#fdb4c0" filter="url(#b4)"/>
<rect x="67.4" y="1249.8" width="520.8" height="29.0" fill="#eaa8b5"/>
<rect x="69.60000000000001" y="1252.0" width="516.4" height="24.6" fill="#fdb4c0" filter="url(#b4)"/>
<rect x="41.5" y="1291.0" width="569" height="4.4" rx="2.2" fill="#000"/>
<rect x="148.8" y="1292" width="4.4" height="12" rx="1.5" fill="#000"/>
<rect x="294.0" y="1292" width="4.4" height="12" rx="1.5" fill="#000"/>
<rect x="439.4" y="1292" width="4.4" height="12" rx="1.5" fill="#000"/>
<rect x="584.8" y="1292" width="4.4" height="12" rx="1.5" fill="#000"/>
<text transform="translate(110.75,1357.63) scale(0.9610,1)" font-size="46.64" fill="#333333" stroke="#333333" stroke-width="1.0" stroke-linejoin="round">750</text>
<text transform="translate(257.54,1357.83) scale(0.9271,1)" font-size="47.49" fill="#333333" stroke="#333333" stroke-width="1.0" stroke-linejoin="round">500</text>
<text transform="translate(401.63,1357.83) scale(0.9543,1)" font-size="47.49" fill="#333333" stroke="#333333" stroke-width="1.0" stroke-linejoin="round">250</text>
<text transform="translate(574.76,1357.83) scale(0.9172,1)" font-size="47.49" fill="#333333" stroke="#333333" stroke-width="1.0" stroke-linejoin="round">0</text>
<text transform="translate(224.52,1427.20) scale(0.9902,1)" font-size="55.72" fill="#000" stroke="#000" stroke-width="1.2" stroke-linejoin="round">Set Size</text>
<text transform="translate(633.42,1067.40) scale(0.9534,1)" font-size="47.38" fill="#000" stroke="#000" stroke-width="1.3" stroke-linejoin="round">Duse Bay 200</text>
<text transform="translate(633.42,1121.00) scale(0.9710,1)" font-size="46.52" fill="#000" stroke="#000" stroke-width="1.3" stroke-linejoin="round">Duse Bay 500</text>
<text transform="translate(625.54,1175.20) scale(0.9667,1)" font-size="46.52" fill="#000" stroke="#000" stroke-width="1.3" stroke-linejoin="round">Duse Bay 1000</text>
<text transform="translate(668.15,1229.00) scale(0.9158,1)" font-size="46.38" fill="#000" stroke="#000" stroke-width="1.3" stroke-linejoin="round">PGC 1000</text>
<text transform="translate(668.15,1287.00) scale(0.8884,1)" font-size="47.81" fill="#000" stroke="#000" stroke-width="1.3" stroke-linejoin="round">PGC 1250</text>
</g></svg></body></html>
